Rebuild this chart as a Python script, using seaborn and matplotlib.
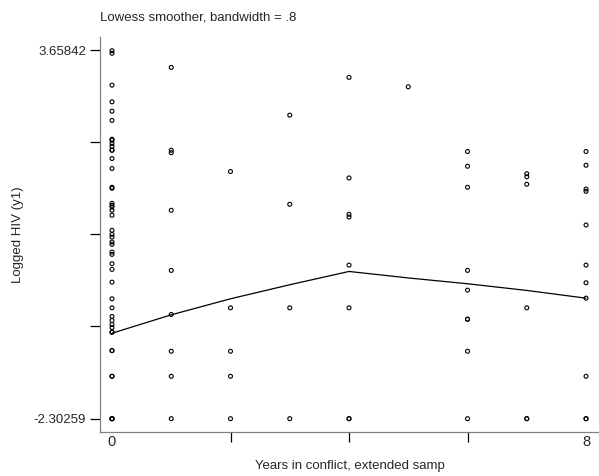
import matplotlib
matplotlib.use("Agg")
import matplotlib.pyplot as plt
import seaborn as sns
import pandas as pd

# Logged HIV (y1) by years in conflict
years_0 = [0.0] * 47
hiv_0 = [3.647, 3.605, 3.091, 2.821, 2.670, 2.520, 2.217, 2.201, 2.147, 2.103,
         2.038, 2.038, 1.904, 1.742, 1.439, 1.423, 1.180, 1.148, 1.120, 1.067,
         0.986, 0.743, 0.678, 0.634, 0.553, 0.516, 0.391, 0.354, 0.203, 0.111,
         -0.095, -0.364, -0.510, -0.650, -0.715, -0.780, -0.829, -0.905, -0.905,
         -1.201, -1.201, -1.617, -1.617, -2.30259, -2.30259, -2.30259, -2.30259]
years_1 = [1.0] * 9
hiv_1 = [3.378, 2.038, 1.998, 1.067, 0.095, -0.618, -1.212, -1.617, -2.30259]
years_2 = [2.0] * 5
hiv_2 = [1.694, -0.510, -1.212, -1.617, -2.30259]
years_3 = [3.0] * 4
hiv_3 = [2.605, 1.164, -0.510, -2.30259]
years_4 = [4.0] * 8
hiv_4 = [3.216, 1.590, 1.002, 0.958, 0.181, -0.510, -2.30259, -2.30259]
years_5 = [5.0]
hiv_5 = [3.064]
years_6 = [6.0] * 9
hiv_6 = [2.017, 1.779, 1.439, 0.095, -0.224, -0.694, -0.694, -1.212, -2.30259]
years_7 = [7.0] * 6
hiv_7 = [1.658, 1.609, 1.488, -0.510, -2.30259, -2.30259]
years_8 = [8.0] * 11
hiv_8 = [2.017, 1.795, 1.411, 1.374, 0.829, 0.181, -0.105, -0.354, -1.617,
         -2.30259, -2.30259]

# Lowess smoothed values (bandwidth = .8)
smooth_x = [0, 1, 2, 3, 4, 5, 6, 7, 8]
smooth_y = [-0.921, -0.623, -0.364, -0.137, 0.078, -0.027, -0.121, -0.229, -0.354]

y_ticks = [-2.30259, -0.812, 0.678, 2.168, 3.65842]
y_ticklabels = ["-2.30259", "", "", "", "3.65842"]
x_ticks = [0, 2, 4, 6, 8]
x_ticklabels = ["0", "", "", "", "8"]

df = pd.DataFrame({
    "years": years_0 + years_1 + years_2 + years_3 + years_4 + years_5
             + years_6 + years_7 + years_8,
    "hiv": hiv_0 + hiv_1 + hiv_2 + hiv_3 + hiv_4 + hiv_5 + hiv_6 + hiv_7 + hiv_8,
})
smooth = pd.DataFrame({"years": smooth_x, "fit": smooth_y})

sns.set_theme(style="ticks")
plt.rcParams["font.family"] = ["Liberation Sans", "DejaVu Sans"]

fig = plt.figure(figsize=(5.99, 4.76), dpi=100)
ax = fig.add_axes([100 / 599, 1 - 432 / 476, 499 / 599, (432 - 37) / 476])

sns.scatterplot(data=df, x="years", y="hiv", ax=ax, marker="o", s=8,
                facecolors="none", edgecolor="black", linewidth=0.8)
sns.lineplot(data=smooth, x="years", y="fit", ax=ax, color="black",
             linewidth=0.9)

ax.set_xlim(-0.2025, 8.219)
ax.set_ylim(-2.518, 3.869)
ax.set_xticks(x_ticks)
ax.set_xticklabels(x_ticklabels)
ax.set_yticks(y_ticks)
ax.set_yticklabels(y_ticklabels)
ax.tick_params(axis="x", direction="out", length=7, width=0.9,
               color="black", labelsize=10.5, pad=-5)
ax.tick_params(axis="y", direction="out", length=7, width=0.9,
               color="black", labelsize=9.5, pad=3)
# labelled end ticks carry only their label
xticks_major = ax.xaxis.get_major_ticks()
xticks_major[0].tick1line.set_visible(False)
xticks_major[-1].tick1line.set_visible(False)

sns.despine(ax=ax)
for side in ("left", "bottom"):
    ax.spines[side].set_color("#808080")
    ax.spines[side].set_linewidth(0.9)

ax.set_xlabel("Years in conflict, extended samp", fontsize=9.5, labelpad=8)
ax.set_ylabel("Logged HIV (y1)", fontsize=9.5, labelpad=7)
fig.text(100 / 599, 1 - 18 / 476, "Lowess smoother, bandwidth = .8",
         fontsize=9.5, ha="left", va="center")

fig.savefig("out.png", dpi=100)
